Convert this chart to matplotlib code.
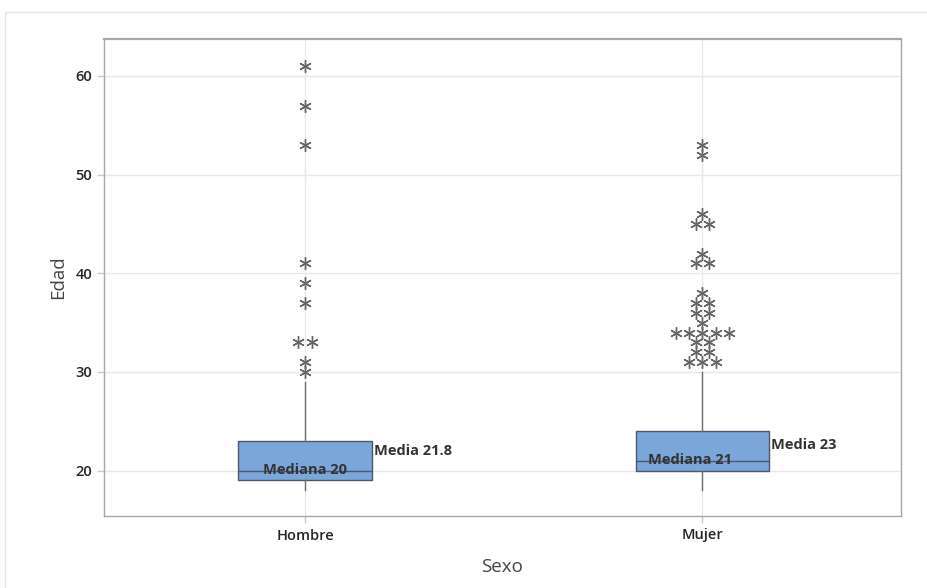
import matplotlib
matplotlib.use("Agg")
import matplotlib.pyplot as plt
from matplotlib.patches import Rectangle
from collections import Counter

plt.rcParams['font.family'] = ['Open Sans', 'DejaVu Sans']

# Data
categories = ["Hombre", "Mujer"]
q1 = [19, 20]
medians = [20, 21]
q3 = [23, 24]
whisker_low = [18, 18]
whisker_high = [29, 30]
means = [21.8, 23]
outliers_hombre = [61, 57, 53, 41, 39, 37, 33, 33, 31, 30]
outliers_mujer = [53, 52, 46, 45, 45, 42, 41, 41, 38, 37, 37, 36, 36, 35,
                  34, 34, 34, 34, 34, 33, 33, 32, 32, 31, 31, 31]
outliers = [outliers_hombre, outliers_mujer]
yticks = [20, 30, 40, 50, 60]

fig = plt.figure(figsize=(9.28, 5.88), dpi=100)
W, H = 928, 588
ax = fig.add_axes([104 / W, 1 - 516 / H, (901 - 104) / W, (516 - 39) / H])

# light outer frame
fig.patches.append(Rectangle((5 / W, -0.01), 1.0, 1 - 12 / H + 0.01,
                             transform=fig.transFigure, fill=False,
                             edgecolor='#e4e4e4', linewidth=1.0, zorder=0))

positions = [1, 2]
stats = []
for i in range(2):
    stats.append(dict(label=categories[i], q1=q1[i], med=medians[i], q3=q3[i],
                      whislo=whisker_low[i], whishi=whisker_high[i],
                      mean=means[i], fliers=[]))

box_w = 0.335
ax.bxp(stats, positions=positions, widths=box_w, showfliers=False,
       showmeans=False, showcaps=False, patch_artist=True,
       boxprops=dict(facecolor='#7ba6da', edgecolor='#4f5866', linewidth=1.0),
       medianprops=dict(color='#4f5866', linewidth=1.0),
       whiskerprops=dict(color='#6e6e6e', linewidth=1.0),
       zorder=3)

# outliers, duplicates spread side by side
spacing = 0.0335
for i, vals in enumerate(outliers):
    counts = Counter(vals)
    for v, n in counts.items():
        for k in range(n):
            xo = positions[i] + (k - (n - 1) / 2) * spacing
            ax.plot(xo, v, marker=(6, 2, 0), markersize=9, color='#666666',
                    markeredgewidth=1.0, linestyle='none', zorder=4)

# labels for median and mean
label_kw = dict(fontsize=10.5, fontweight='bold', color='#333333', zorder=5)
med_dx = [0.0, -0.03]
mean_dy = [0.2, -0.4]
for i in range(2):
    ax.text(positions[i] + med_dx[i], medians[i] + 0.1, f"Mediana {medians[i]:g}",
            ha='center', va='center', **label_kw)
    ax.text(positions[i] + box_w / 2 + 0.005, means[i] + mean_dy[i],
            f"Media {means[i]:g}", ha='left', va='center', **label_kw)

ax.set_xlim(0.494, 2.5)
ax.set_ylim(15.4, 63.75)
ax.set_xticks(positions)
ax.set_xticklabels(categories)
ax.set_yticks(yticks)
ax.grid(True, color='#e8e8e8', linewidth=1.0, zorder=0)
ax.set_axisbelow(True)

for s in ax.spines.values():
    s.set_color('#a8a8a8')
    s.set_linewidth(1.0)
ax.spines['top'].set_linewidth(1.6)

ax.tick_params(axis='both', colors='#cccccc', length=5, width=1,
               labelcolor='#262626', labelsize=10.5)
for lbl in ax.get_xticklabels() + ax.get_yticklabels():
    lbl.set_fontweight('semibold')
ax.tick_params(axis='x', pad=4)
ax.set_xlabel("Sexo", fontsize=13.5, color='#444444', labelpad=11)
ax.set_ylabel("Edad", fontsize=13.5, color='#444444', labelpad=6)

fig.savefig("out.png", dpi=100)
